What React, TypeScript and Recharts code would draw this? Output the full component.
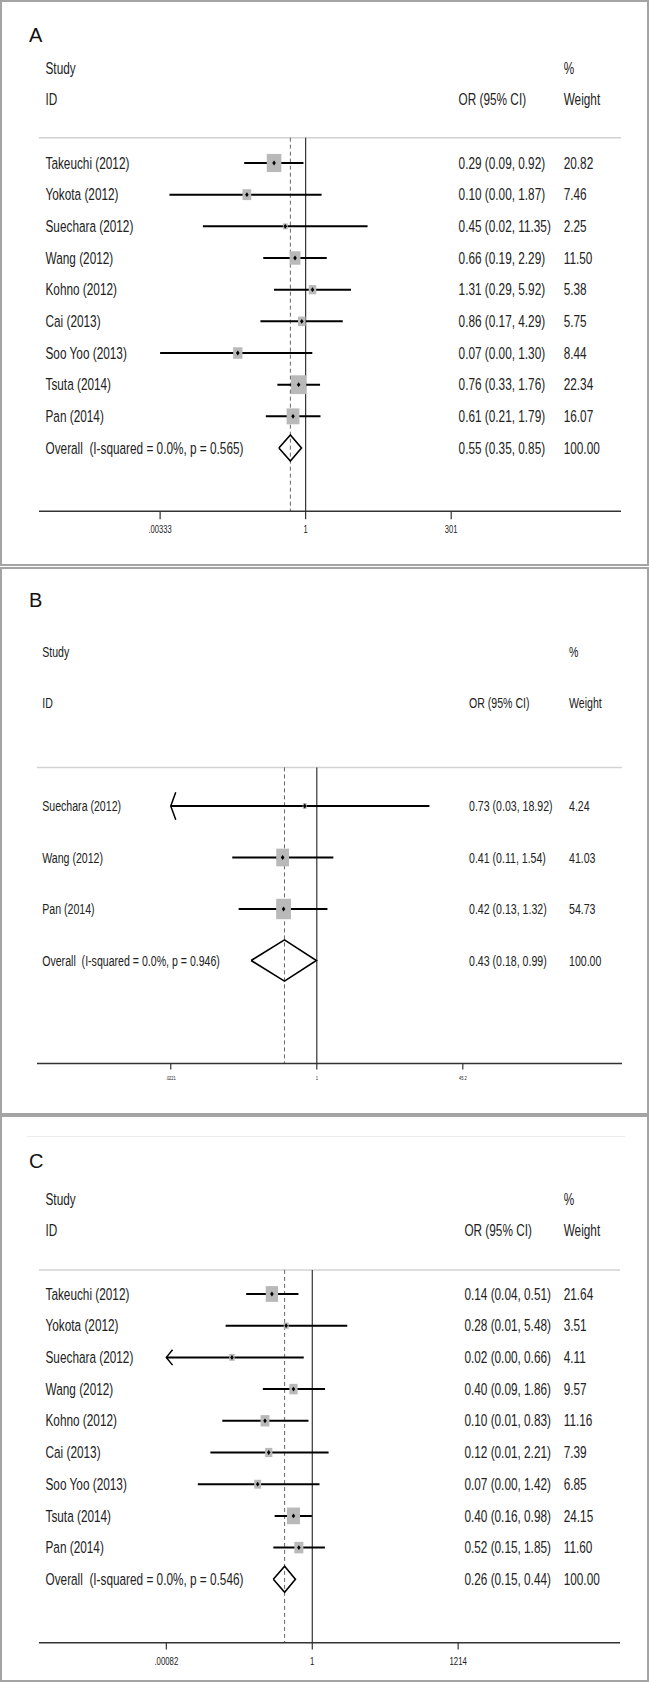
import React from "react";
import { ScatterChart, XAxis, YAxis, Scatter, ReferenceLine } from "recharts";

const FONT = "'Liberation Sans', Arial, Helvetica, sans-serif";
const INK = "#222";

// ---- Panel A
const studiesA = ["Takeuchi (2012)", "Yokota (2012)", "Suechara (2012)", "Wang (2012)", "Kohno (2012)", "Cai (2013)", "Soo Yoo (2013)", "Tsuta (2014)", "Pan (2014)"];
const orA = [0.29, 0.1, 0.45, 0.66, 1.31, 0.86, 0.07, 0.76, 0.61];
const lowA = [0.09, 0.0048, 0.0178, 0.19, 0.29, 0.17, 0.00333, 0.33, 0.21];
const highA = [0.92, 1.87, 11.35, 2.29, 5.92, 4.29, 1.3, 1.76, 1.79];
const weightA = [20.82, 7.46, 2.25, 11.5, 5.38, 5.75, 8.44, 22.34, 16.07];
const arrowA = [false, false, false, false, false, false, false, false, false];
const overallA = [0.55, 0.35, 0.85];
const hetA = "Overall  (I-squared = 0.0%, p = 0.565)";
const ticksA = [0.00333, 1, 301];
const tickLabelsA = [".00333", "1", "301"];

// ---- Panel B
const studiesB = ["Suechara (2012)", "Wang (2012)", "Pan (2014)"];
const orB = [0.73, 0.41, 0.42];
const lowB = [0.03, 0.11, 0.13];
const highB = [18.92, 1.54, 1.32];
const weightB = [4.24, 41.03, 54.73];
const arrowB = [true, false, false];
const overallB = [0.43, 0.18, 0.99];
const hetB = "Overall  (I-squared = 0.0%, p = 0.946)";
const ticksB = [0.0221, 1, 45.2];
const tickLabelsB = [".0221", "1", "45.2"];

// ---- Panel C
const studiesC = ["Takeuchi (2012)", "Yokota (2012)", "Suechara (2012)", "Wang (2012)", "Kohno (2012)", "Cai (2013)", "Soo Yoo (2013)", "Tsuta (2014)", "Pan (2014)"];
const orC = [0.14, 0.28, 0.02, 0.4, 0.1, 0.12, 0.07, 0.4, 0.52];
const lowC = [0.04, 0.0147, 0.00082, 0.09, 0.0125, 0.007, 0.0038, 0.16, 0.15];
const highC = [0.51, 5.48, 0.66, 1.86, 0.83, 2.21, 1.42, 0.98, 1.85];
const weightC = [21.64, 3.51, 4.11, 9.57, 11.16, 7.39, 6.85, 24.15, 11.6];
const arrowC = [false, false, true, false, false, false, false, false, false];
const overallC = [0.26, 0.15, 0.44];
const hetC = "Overall  (I-squared = 0.0%, p = 0.546)";
const ticksC = [0.00082, 1, 1214];
const tickLabelsC = [".00082", "1", "1214"];

const lg = (v: number) => Math.log10(v);
const ci = (e: number, l: number, h: number) => `${e.toFixed(2)} (${l.toFixed(2)}, ${h.toFixed(2)})`;

type Panel = any;

const panels: Panel[] = [
  {
    letter: "A", top: 0, height: 566, letterTop: 25,
    studies: studiesA, or: orA, low: lowA, high: highA, weight: weightA, arrow: arrowA,
    overall: overallA, het: hetA, ticks: ticksA, tickLabels: tickLabelsA,
    domain: [-4.54, 5.37], left: 39, right: 621, row0: 163, step: 31.67, axisRow: 11, sepRow: -0.8,
    nameX: 45.5, orX: 458.6, wX: 563.7, fs: 11.8, sy: 1.33,
    tickFs: 7.6, tickSy: 1.4, tickSize: 8, tickDy: 18,
    boxK: 3.2, boxRatio: 1.24, diamondH: 0.41, arrowDx: 6, arrowDy: 7.7,
  },
  {
    letter: "B", top: 567, height: 548, letterTop: 23,
    studies: studiesB, or: orB, low: lowB, high: highB, weight: weightB, arrow: arrowB,
    overall: overallB, het: hetB, ticks: ticksB, tickLabels: tickLabelsB,
    domain: [-3.172, 3.46], left: 37, right: 622, row0: 239, step: 51.5, axisRow: 5, sepRow: -0.75,
    nameX: 42.2, orX: 469, wX: 569, fs: 10.6, sy: 1.42,
    tickFs: 4, tickSy: 1.5, tickSize: 6, tickDy: 14.3,
    boxK: 2.0, boxRatio: 1.38, diamondH: 0.4, arrowDx: 5, arrowDy: 13.7,
  },
  {
    letter: "C", top: 1115, height: 567, letterTop: 36,
    studies: studiesC, or: orC, low: lowC, high: highC, weight: weightC, arrow: arrowC,
    overall: overallC, het: hetC, ticks: ticksC, tickLabels: tickLabelsC,
    domain: [-5.779, 6.507], left: 39, right: 620, row0: 179, step: 31.7, axisRow: 11, sepRow: -0.76,
    nameX: 45.5, orX: 464.4, wX: 563.7, fs: 11.8, sy: 1.33,
    tickFs: 7.8, tickSy: 1.4, tickSize: 6.7, tickDy: 18,
    boxK: 2.65, boxRatio: 1.28, diamondH: 0.41, arrowDx: 6.2, arrowDy: 7.7,
  },
];

const Txt = ({ x, y, fs, sy, anchor = "start", children }: any) => (
  <text
    transform={`translate(${x},${y}) scale(1,${sy})`}
    x={0}
    y={0.36 * fs}
    fontSize={fs}
    fontFamily={FONT}
    fill={INK}
    textAnchor={anchor}
    style={{ whiteSpace: "pre" }}
  >
    {children}
  </text>
);

const RowText = (props: any) => {
  const { cx, cy, payload, cfg } = props;
  const off = cx - cfg.left;
  return (
    <g>
      <Txt x={cfg.nameX + off} y={cy} fs={cfg.fs} sy={cfg.sy}>{payload.name}</Txt>
      {payload.ci && <Txt x={cfg.orX + off} y={cy} fs={cfg.fs} sy={cfg.sy}>{payload.ci}</Txt>}
      {payload.w && <Txt x={cfg.wX + off} y={cy} fs={cfg.fs} sy={cfg.sy}>{payload.w}</Txt>}
    </g>
  );
};

const WeightBox = (props: any) => {
  const { cx, cy, payload, cfg } = props;
  const w = cfg.boxK * Math.sqrt(payload.w);
  const h = w * cfg.boxRatio;
  return (
    <g>
      <rect x={cx - w / 2} y={cy - h / 2} width={w} height={h} fill="#b9b9b9" />
      <polygon points={`${cx - 1.8},${cy} ${cx},${cy - 2.4} ${cx + 1.8},${cy} ${cx},${cy + 2.4}`} fill="#000" />
    </g>
  );
};

const CiLine = (props: any) => {
  const { x1, y1, x2, y2, arrow, dx, dy } = props;
  return (
    <g>
      <line x1={x1} y1={y1} x2={x2} y2={y2} stroke="#000" strokeWidth={2} />
      {arrow && (
        <polyline
          points={`${x1 + dx},${y1 - dy} ${x1},${y1} ${x1 + dx},${y1 + dy}`}
          fill="none"
          stroke="#000"
          strokeWidth={1.5}
        />
      )}
    </g>
  );
};

const AxisTick = (props: any) => {
  const { x, y, payload, cfg } = props;
  const i = cfg.ticks.findIndex((t: number) => Math.abs(lg(t) - payload.value) < 1e-6);
  const cy = y - cfg.tickSize + cfg.tickDy;
  return (
    <Txt x={x} y={cy} fs={cfg.tickFs} sy={cfg.tickSy} anchor="middle">
      {cfg.tickLabels[i]}
    </Txt>
  );
};

function ForestPanel({ cfg }: { cfg: Panel }) {
  const n = cfg.studies.length;
  const x0 = cfg.domain[0];
  const rows = [
    { x: x0, y: -3, name: "Study", ci: "", w: "%" },
    { x: x0, y: -2, name: "ID", ci: "OR (95% CI)", w: "Weight" },
    ...cfg.studies.map((s: string, i: number) => ({
      x: x0, y: i, name: s, ci: ci(cfg.or[i], cfg.low[i], cfg.high[i]), w: cfg.weight[i].toFixed(2),
    })),
    { x: x0, y: n, name: cfg.het, ci: ci(cfg.overall[0], cfg.overall[1], cfg.overall[2]), w: "100.00" },
  ];
  const points = cfg.studies.map((s: string, i: number) => ({ x: lg(cfg.or[i]), y: i, w: cfg.weight[i] }));
  const [oe, ol, oh] = cfg.overall.map(lg);
  const hd = cfg.diamondH;
  const diamond = [
    { x: ol, y: n }, { x: oe, y: n - hd }, { x: oh, y: n }, { x: oe, y: n + hd }, { x: ol, y: n },
  ];
  const top = cfg.row0 - 4 * cfg.step;
  const plotH = (cfg.axisRow + 4) * cfg.step;
  const axisH = cfg.height - top - plotH;

  return (
    <div style={{ position: "absolute", left: 0, top: cfg.top, width: 649, height: cfg.height }}>
      <ScatterChart
        width={649}
        height={cfg.height}
        margin={{ top, right: 649 - cfg.right, bottom: 0, left: cfg.left }}
        style={{ position: "absolute", left: 0, top: 0 }}
      >
        <XAxis
          type="number"
          dataKey="x"
          domain={cfg.domain}
          allowDataOverflow
          ticks={cfg.ticks.map(lg)}
          height={axisH}
          tickSize={cfg.tickSize}
          tickMargin={0}
          axisLine={{ stroke: "#333", strokeWidth: 1.5 }}
          tickLine={{ stroke: "#333", strokeWidth: 1.2 }}
          tick={(p: any) => <AxisTick {...p} cfg={cfg} />}
        />
        <YAxis type="number" dataKey="y" domain={[-4, cfg.axisRow]} reversed hide width={0} allowDataOverflow />
        <ReferenceLine y={cfg.sepRow} stroke="#d2d2d2" strokeWidth={1.5} />
        <ReferenceLine
          segment={[{ x: 0, y: cfg.sepRow }, { x: 0, y: cfg.axisRow }]}
          stroke="#333"
          strokeWidth={1.2}
        />
        <ReferenceLine
          segment={[{ x: oe, y: cfg.sepRow }, { x: oe, y: cfg.axisRow }]}
          stroke="#666"
          strokeWidth={1}
          strokeDasharray="4 3"
        />
        {cfg.studies.map((s: string, i: number) => {
          const lo = cfg.arrow[i] ? cfg.ticks[0] : cfg.low[i];
          return (
            <ReferenceLine
              key={s + i}
              segment={[{ x: lg(lo), y: i }, { x: lg(cfg.high[i]), y: i }]}
              shape={(p: any) => <CiLine {...p} arrow={cfg.arrow[i]} dx={cfg.arrowDx} dy={cfg.arrowDy} />}
            />
          );
        })}
        <Scatter
          data={points}
          isAnimationActive={false}
          shape={(p: any) => <WeightBox {...p} cfg={cfg} />}
        />
        <Scatter
          data={diamond}
          isAnimationActive={false}
          line={{ stroke: "#000", strokeWidth: 1.6 }}
          shape={() => <g />}
        />
        <Scatter
          data={rows}
          isAnimationActive={false}
          shape={(p: any) => <RowText {...p} cfg={cfg} />}
        />
      </ScatterChart>
      <div
        style={{
          position: "absolute", left: 29, top: cfg.letterTop, fontFamily: FONT,
          fontSize: 20, lineHeight: "20px", color: "#111",
        }}
      >
        {cfg.letter}
      </div>
      {cfg.letter === "C" && (
        <div style={{ position: "absolute", left: 27, top: 21, width: 598, height: 1, background: "#ececec" }} />
      )}
      <div
        style={{
          position: "absolute", inset: 0, border: "2px solid #a4a4a4", boxSizing: "border-box", pointerEvents: "none",
        }}
      />
    </div>
  );
}

export default function App() {
  return (
    <div style={{ position: "relative", width: 649, height: 1682, background: "#fff" }}>
      <style>{"body{margin:0;background:#fff}"}</style>
      {panels.map((p) => (
        <ForestPanel key={p.letter} cfg={p} />
      ))}
    </div>
  );
}
